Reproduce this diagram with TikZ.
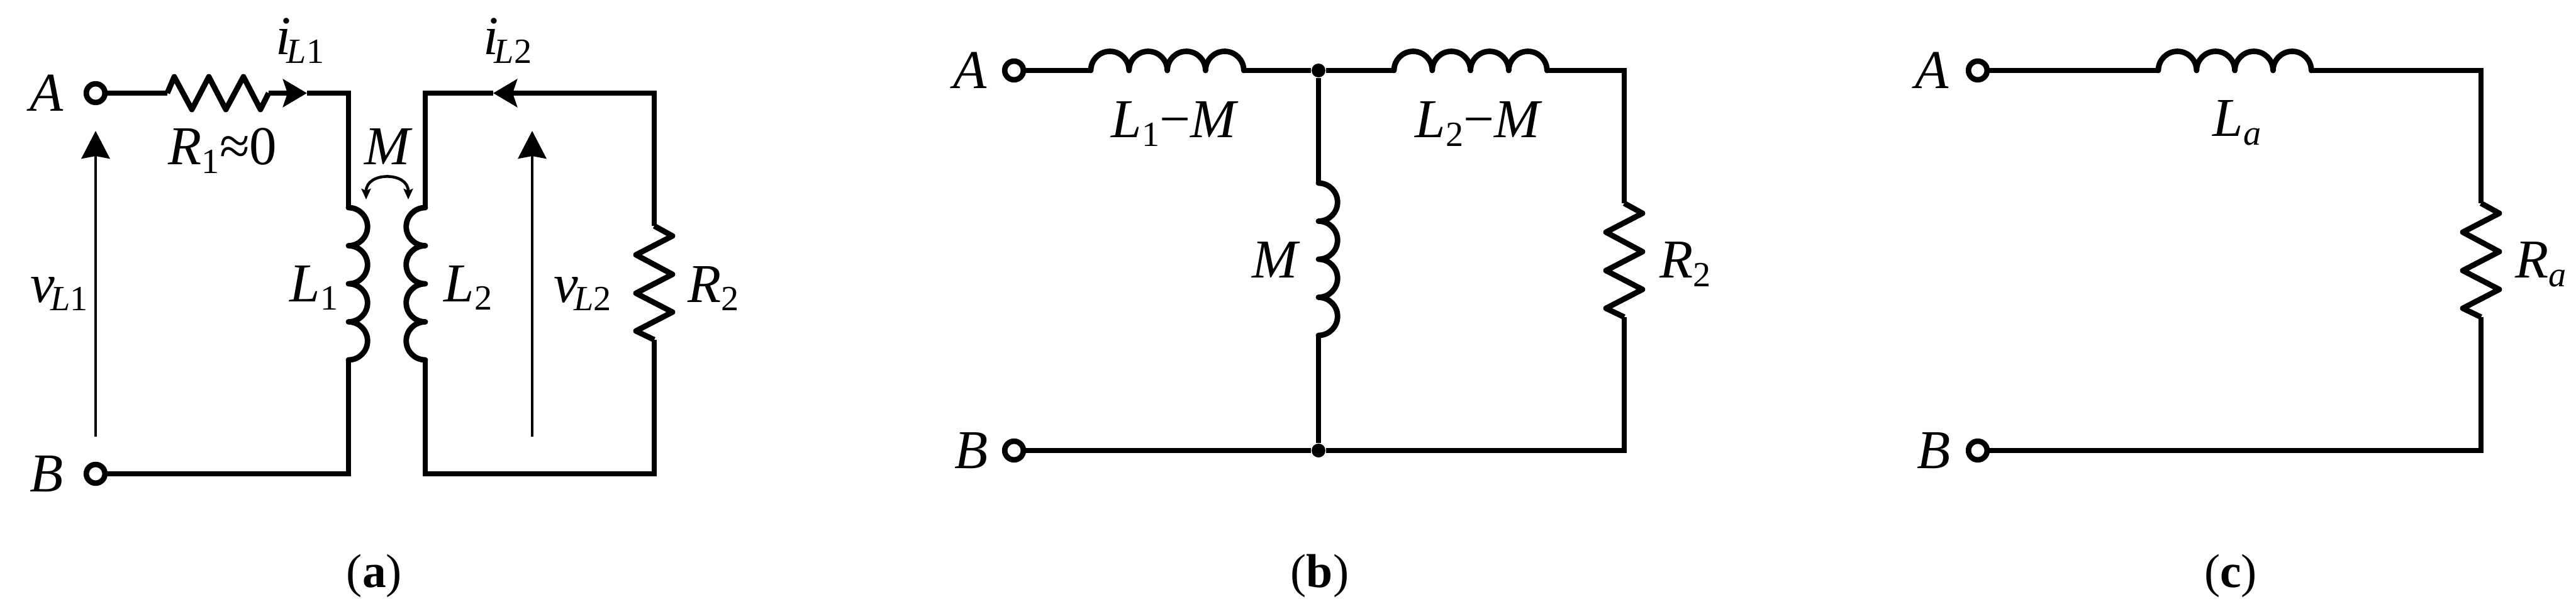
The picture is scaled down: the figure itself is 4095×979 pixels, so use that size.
\documentclass[tikz,border=0pt]{standalone}
\usepackage{fontspec}
\setmainfont{Liberation Serif}
\usetikzlibrary{arrows.meta}

\newcommand{\lsub}[1]{\raisebox{-0.15em}{\fontsize{16}{17}\selectfont #1}}
\newcommand{\ksub}[1]{\kern-0.08em\lsub{#1}}
\newcommand{\up}[1]{{\upshape #1}}

\tikzset{
  wire/.style={line width=0.088cm, line join=miter},
  reswire/.style={line width=0.088cm, line join=round},
  coilwire/.style={line width=0.088cm, line join=round, line cap=round},
  sense/.style={line width=0.045cm, -{Stealth[length=0.44cm,width=0.45cm,inset=0.04cm]}},
  link/.style={line width=0.045cm, {Stealth[length=0.17cm,width=0.15cm,inset=0.03cm]}-{Stealth[length=0.17cm,width=0.15cm,inset=0.03cm]}},
  flow/.style={wire, -{Stealth[length=0.38cm,width=0.44cm,inset=0.07cm]}},
  term/.style={circle, draw, line width=0.087cm, fill=white, inner sep=0pt, minimum size=0.296cm},
  junction/.style={circle, fill, inner sep=0pt, minimum size=0.22cm},
  lbl/.style={anchor=base west, inner sep=0pt, font=\fontsize{24.75}{26}\selectfont\itshape},
  subcap/.style={anchor=base, inner sep=0pt, font=\fontsize{21.5}{24}\selectfont},
  pics/hres/.style={code={
    \coordinate (-in) at (0,0);
    \coordinate (-out) at (161,0);
    \draw[reswire] (0,0) -- (11,26) -- (39,-26) -- (66,26) -- (93,-26) -- (121,26) -- (148,-26) -- (161,0);
  }},
  pics/vres/.style={code={
    \coordinate (-in) at (0,0);
    \coordinate (-out) at (0,-181);
    \draw[reswire] (0,0) -- (29,-16) -- (-29,-46) -- (29,-77) -- (-29,-107) -- (29,-137) -- (-29,-167) -- (0,-181);
  }},
  pics/hcoil/.style={code={
    \coordinate (-in) at (0,0);
    \coordinate (-out) at (243,0);
    \draw[coilwire] (0,0) arc (180:0:30.4) arc (180:0:30.4) arc (180:0:30.4) arc (180:0:30.4);
  }},
  pics/rcoil/.style={code={
    \coordinate (-in) at (0,0);
    \coordinate (-out) at (0,-242);
    \draw[coilwire] (0,0) arc (90:-90:30.25) arc (90:-90:30.25) arc (90:-90:30.25) arc (90:-90:30.25);
  }},
  pics/lcoil/.style={code={
    \coordinate (-in) at (0,0);
    \coordinate (-out) at (0,-242);
    \draw[coilwire] (0,0) arc (90:270:30.25) arc (90:270:30.25) arc (90:270:30.25) arc (90:270:30.25);
  }},
}

\begin{document}
\begin{tikzpicture}[x=0.01cm, y=0.01cm]
  \useasboundingbox (0,0) rectangle (4095,-979);

  % (a)
  \node[term] (aA) at (152,-148) {};
  \node[term] (aB) at (152,-753) {};
  \pic (ar1) at (266,-148) {hres};
  \pic (al1) at (554,-330) {rcoil};
  \pic (al2) at (676,-330) {lcoil};
  \pic (ar2) at (1040,-359) {vres};
  \coordinate (ai1) at (488,-148);
  \coordinate (ai2) at (784,-148);
  \coordinate (ac2) at (1040,-753);
  \coordinate (av1s) at (152,-694);
  \coordinate (av1e) at (152,-208);
  \coordinate (av2s) at (846,-694);
  \coordinate (av2e) at (846,-208);
  \coordinate (am1) at (582,-317);
  \coordinate (am2) at (649,-317);

  \draw[wire] (aA) -- (ar1-in);
  \draw[flow] (ar1-out) -- (ai1);
  \draw[wire] (ai1) -| (al1-in);
  \draw[wire] (al1-out) |- (aB);
  \draw[flow] (ar2-in) |- (ai2);
  \draw[wire] (ai2) -| (al2-in);
  \draw[wire] (al2-out) |- (ac2) -- (ar2-out);
  \draw[sense] (av1s) -- (av1e);
  \draw[sense] (av2s) -- (av2e);
  \draw[link] (am1) to[out=90,in=90,looseness=1.7] (am2);

  \node[lbl] (aAl) at (47,-177) {A};
  \node[lbl] (aBl) at (47,-781) {B};
  \node[lbl] (aiL1) at (438,-87) {i\ksub{L\up{1}}};
  \node[lbl] (aiL2) at (768,-87) {i\ksub{L\up{2}}};
  \node[lbl] (aR1) at (267,-262) {R\lsub{\up{1}}\up{≈0}};
  \node[lbl] (aM) at (579,-262) {M};
  \node[lbl] (avL1) at (48,-480) {v\ksub{L\up{1}}};
  \node[lbl] (avL2) at (880,-480) {v\ksub{L\up{2}}};
  \node[lbl] (aL1) at (460,-479) {L\lsub{\up{1}}};
  \node[lbl] (aL2) at (705,-479) {L\lsub{\up{2}}};
  \node[lbl] (aR2) at (1093,-480) {R\lsub{\up{2}}};
  \node[subcap] (acap) at (595,-933) {(\textbf{a})};

  % (b)
  \node[term] (bA) at (1612,-112) {};
  \node[term] (bB) at (1612,-716) {};
  \node[junction] (bt) at (2096,-112) {};
  \node[junction] (bb) at (2096,-716) {};
  \pic (bl1) at (1734,-112) {hcoil};
  \pic (bl2) at (2216,-112) {hcoil};
  \pic (bm) at (2096,-291) {rcoil};
  \pic (br2) at (2582,-323) {vres};
  \coordinate (bc1) at (2582,-716);

  \draw[wire] (bA) -- (bl1-in);
  \draw[wire] (bl1-out) -- (bt);
  \draw[wire] (bt) -- (bl2-in);
  \draw[wire] (bl2-out) -| (br2-in);
  \draw[wire] (bt) -- (bm-in);
  \draw[wire] (bm-out) -- (bb);
  \draw[wire] (bB) -- (bb);
  \draw[wire] (bb) -- (bc1) -- (br2-out);

  \node[lbl] (bAl) at (1515,-141) {A};
  \node[lbl] (bBl) at (1517,-744) {B};
  \node[lbl] (bL1) at (1766,-219) {L\lsub{\up{1}}\up{−}M};
  \node[lbl] (bL2) at (2249,-219) {L\lsub{\up{2}}\up{−}M};
  \node[lbl] (bM) at (1990,-442) {M};
  \node[lbl] (bR2) at (2638,-442) {R\lsub{\up{2}}};
  \node[subcap] (bcap) at (2098,-933) {(\textbf{b})};

  % (c)
  \node[term] (cA) at (3144,-112) {};
  \node[term] (cB) at (3144,-716) {};
  \pic (cl) at (3431,-112) {hcoil};
  \pic (cr) at (3944,-323) {vres};
  \coordinate (cc1) at (3944,-716);

  \draw[wire] (cA) -- (cl-in);
  \draw[wire] (cl-out) -| (cr-in);
  \draw[wire] (cB) -- (cc1) -- (cr-out);

  \node[lbl] (cAl) at (3044,-141) {A};
  \node[lbl] (cBl) at (3047,-744) {B};
  \node[lbl] (cL) at (3517,-217) {L\lsub{a}};
  \node[lbl] (cR) at (3998,-442) {R\lsub{a}};
  \node[subcap] (ccap) at (3546,-933) {(\textbf{c})};
\end{tikzpicture}
\end{document}
